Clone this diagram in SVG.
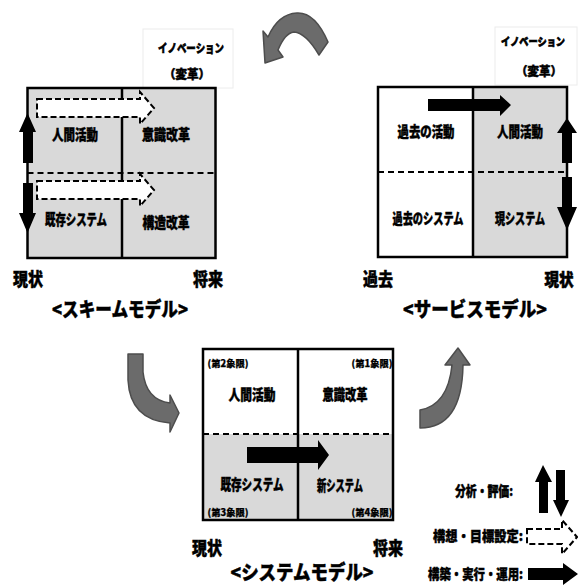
<svg xmlns="http://www.w3.org/2000/svg" width="578" height="585" viewBox="0 0 578 585">
<style>
.t{font-family:"Noto Sans CJK JP","Noto Sans CJK SC",sans-serif;font-weight:900;fill:#000;stroke:#000;stroke-width:0.45;dominant-baseline:central;text-anchor:middle}
.m{font-size:15px}
.ax{font-size:18px}
.ax2{font-size:17px;stroke-width:0.6}
.ttl{font-size:20px}
.inv{font-size:12px;stroke-width:0.55}
.inv2{font-size:11px;stroke-width:0.65}
.q{font-size:9.5px;stroke-width:0.25}
.lg{font-size:14px;text-anchor:end}
.frame{fill:none;stroke:#000;stroke-width:2.5}
.div{stroke:#000;stroke-width:2.5}
.dl{stroke:#000;stroke-width:2;stroke-dasharray:6 4;fill:none}
.gray{fill:#d9d9d9}
.white{fill:#fff}
.lbl{fill:#fff;stroke:#ececec;stroke-width:1}
.hollow{fill:#fff;stroke:#000;stroke-width:2;stroke-dasharray:6 3}
.solid{fill:#000}
.curv{fill:#6b6b6b;stroke:#4d4d4d;stroke-width:1.5;stroke-linejoin:round}
</style>

<g id="scheme-model">
  <rect class="lbl" x="143" y="29" width="90" height="59"/>
  <text class="t inv" x="191" y="47" textLength="66" lengthAdjust="spacingAndGlyphs">イノベーション</text>
  <text class="t inv" x="187" y="73" textLength="46" lengthAdjust="spacingAndGlyphs">（変革）</text>
  <rect class="gray" x="27.5" y="88" width="188" height="170"/>
  <line class="div" x1="122" y1="88" x2="122" y2="258"/>
  <line class="dl" x1="27.5" y1="173" x2="215.5" y2="173"/>
  <rect class="frame" x="27.5" y="88" width="188" height="170"/>
  <path class="hollow" d="M37,99 H140 V92 L154,108 L140,124 V117 H37 Z"/>
  <path class="hollow" d="M37,181 H140 V174 L154,190 L140,206 V199 H37 Z"/>
  <polygon class="solid" points="27.5,113 36,132 33,132 33,163 23,163 23,132 19,132"/>
  <polygon class="solid" points="23,183 33,183 33,213 36,213 27.5,233 19,213 23,213"/>
  <text class="t m" x="75" y="133" textLength="46" lengthAdjust="spacingAndGlyphs">人間活動</text>
  <text class="t m" x="166" y="133" textLength="48" lengthAdjust="spacingAndGlyphs">意識改革</text>
  <text class="t m" x="76" y="218" textLength="62" lengthAdjust="spacingAndGlyphs">既存システム</text>
  <text class="t m" x="166" y="221" textLength="47" lengthAdjust="spacingAndGlyphs">構造改革</text>
  <text class="t ax" x="28" y="278" textLength="30" lengthAdjust="spacingAndGlyphs">現状</text>
  <text class="t ax" x="208" y="278" textLength="30" lengthAdjust="spacingAndGlyphs">将来</text>
  <text class="t ttl" x="120" y="308" textLength="136" lengthAdjust="spacingAndGlyphs">&lt;スキームモデル&gt;</text>
</g>

<g id="service-model">
  <rect class="lbl" x="495" y="27" width="82" height="58"/>
  <text class="t inv2" x="533" y="41" textLength="64" lengthAdjust="spacingAndGlyphs">イノベーション</text>
  <text class="t inv" x="539" y="70" textLength="46" lengthAdjust="spacingAndGlyphs">（変革）</text>
  <rect class="white" x="378" y="87" width="95" height="170"/>
  <rect class="gray" x="473" y="87" width="94" height="170"/>
  <line class="div" x1="473" y1="87" x2="473" y2="257"/>
  <line class="dl" x1="378" y1="172" x2="567" y2="172"/>
  <rect class="frame" x="378" y="87" width="189" height="170"/>
  <polygon class="solid" points="428,99 500,99 500,95 511,105 500,116 500,111 428,111"/>
  <polygon class="solid" points="567,118 577,133 572,133 572,163 562,163 562,133 557,133"/>
  <polygon class="solid" points="562,177 572,177 572,207 577,207 567,230 557,207 562,207"/>
  <text class="t m" x="426" y="130" textLength="57" lengthAdjust="spacingAndGlyphs">過去の活動</text>
  <text class="t m" x="520" y="130" textLength="46" lengthAdjust="spacingAndGlyphs">人間活動</text>
  <text class="t m" x="428" y="217" textLength="71" lengthAdjust="spacingAndGlyphs">過去のシステム</text>
  <text class="t m" x="520" y="217" textLength="50" lengthAdjust="spacingAndGlyphs">現システム</text>
  <text class="t ax" x="378" y="278" textLength="30" lengthAdjust="spacingAndGlyphs">過去</text>
  <text class="t ax2" x="559" y="278" textLength="29" lengthAdjust="spacingAndGlyphs">現状</text>
  <text class="t ttl" x="475" y="308" textLength="144" lengthAdjust="spacingAndGlyphs">&lt;サービスモデル&gt;</text>
</g>

<g id="system-model">
  <rect class="white" x="203" y="349" width="190" height="85"/>
  <rect class="gray" x="203" y="434" width="190" height="86"/>
  <line class="div" x1="298" y1="349" x2="298" y2="520"/>
  <line class="dl" x1="203" y1="434" x2="393" y2="434"/>
  <rect class="frame" x="203" y="349" width="190" height="171"/>
  <polygon class="solid" points="247,447 318,447 318,440 329,455 318,470 318,463 247,463"/>
  <text class="t q" x="228" y="363" textLength="41" lengthAdjust="spacingAndGlyphs">(第2象限)</text>
  <text class="t q" x="372" y="363" textLength="41" lengthAdjust="spacingAndGlyphs">(第1象限)</text>
  <text class="t m" x="252" y="393" textLength="47" lengthAdjust="spacingAndGlyphs">人間活動</text>
  <text class="t m" x="345" y="393" textLength="45" lengthAdjust="spacingAndGlyphs">意識改革</text>
  <text class="t m" x="252" y="483" textLength="63" lengthAdjust="spacingAndGlyphs">既存システム</text>
  <text class="t m" x="340" y="484" textLength="46" lengthAdjust="spacingAndGlyphs">新システム</text>
  <text class="t q" x="228" y="512" textLength="41" lengthAdjust="spacingAndGlyphs">(第3象限)</text>
  <text class="t q" x="372" y="512" textLength="41" lengthAdjust="spacingAndGlyphs">(第4象限)</text>
  <text class="t ax" x="207" y="547" textLength="30" lengthAdjust="spacingAndGlyphs">現状</text>
  <text class="t ax" x="388" y="547" textLength="30" lengthAdjust="spacingAndGlyphs">将来</text>
  <text class="t ttl" x="302" y="571" textLength="143" lengthAdjust="spacingAndGlyphs">&lt;システムモデル&gt;</text>
</g>

<g id="legend">
  <text class="t lg" x="513" y="490" textLength="58" lengthAdjust="spacingAndGlyphs">分析・評価:</text>
  <polygon class="solid" points="543,465 552,482 548,482 548,513 539,513 539,482 535,482"/>
  <polygon class="solid" points="556,470 565,470 565,500 569,500 561,517 553,500 556,500"/>
  <text class="t lg" x="523" y="535" textLength="90" lengthAdjust="spacingAndGlyphs">構想・目標設定:</text>
  <path class="hollow" d="M527,529 H562 V520 L577,537 L562,554 V544 H527 Z"/>
  <text class="t lg" x="523" y="573" textLength="95" lengthAdjust="spacingAndGlyphs">構築・実行・運用:</text>
  <polygon class="solid" points="528,568 563,568 563,563 578,574 563,585 563,580 528,580"/>
</g>

<g id="connectors">
  <path class="curv" d="M328,42 Q315,12 297,13 Q278,14 268,37 L263,31 L265,63 L283,57 L278,50 Q285,33 294,32 Q306,33 319,55 Z"/>
  <path class="curv" d="M128,354 L143,354 L143,372 Q146,400 170,403 L170,395 L179,413 L170,432 L170,423 Q130,420 128,380 Z"/>
  <path class="curv" d="M420,410 Q448,405 452,365 L445,365 L458,348 L470,365 L463,365 Q462,428 420,428 Z"/>
</g>
</svg>
